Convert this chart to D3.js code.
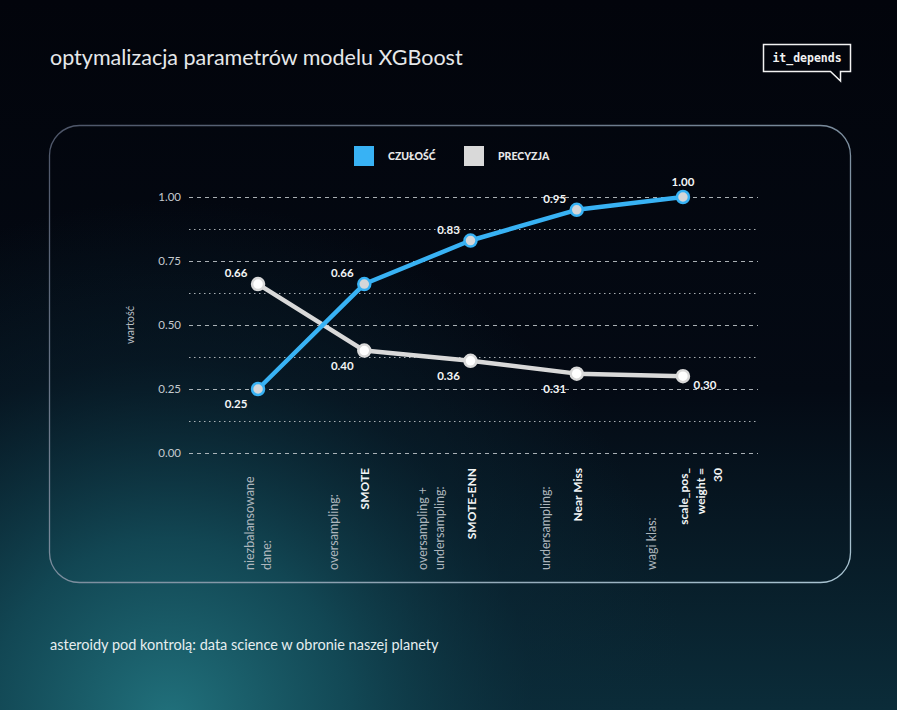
<!DOCTYPE html>
<html>
<head>
<meta charset="utf-8">
<script src="https://cdn.jsdelivr.net/npm/d3@7"></script>
<style>
  body { margin: 0; background: #03060e; }
  svg { display: block; }
</style>
</head>
<body>
<div id="chart"></div>
<script>
// chart data
var categories = ["niezbalansowane dane", "oversampling SMOTE", "SMOTE-ENN", "undersampling Near Miss", "wagi klas"];
var catSub = [["niezbalansowane", "dane:"], ["oversampling:"], ["oversampling +", "undersampling:"], ["undersampling:"], ["wagi klas:"]];
var catMain = [[], ["SMOTE"], ["SMOTE-ENN"], ["Near Miss"], ["scale_pos_", "weight =", "30"]];
var czulosc = [0.25, 0.66, 0.83, 0.95, 1.00];
var precyzja = [0.66, 0.40, 0.36, 0.31, 0.30];
var yTicks = [0, 0.25, 0.5, 0.75, 1];
var yMinor = [0.125, 0.375, 0.625, 0.875];
var seriesNames = ["CZUŁOŚĆ", "PRECYZJA"];

var W = 897, H = 710;
var margin = {top: 197, right: 139, bottom: 257, left: 189},
    width = W - margin.left - margin.right,
    height = H - margin.top - margin.bottom;

var blue = "#38b2f4", grey = "#d9d9d9";

var svg = d3.select("#chart").append("svg")
    .attr("width", W)
    .attr("height", H);

// background gradients
var defs = svg.append("defs");
var lin = defs.append("linearGradient").attr("id", "bgLin")
    .attr("x1", 0).attr("y1", 0).attr("x2", 0).attr("y2", 1);
lin.append("stop").attr("offset", "0%").attr("stop-color", "#02040b");
lin.append("stop").attr("offset", "55%").attr("stop-color", "#040a14");
lin.append("stop").attr("offset", "100%").attr("stop-color", "#0b2c39");

var rad = defs.append("radialGradient").attr("id", "bgGlow")
    .attr("gradientUnits", "userSpaceOnUse")
    .attr("cx", 170).attr("cy", 720).attr("r", 520);
rad.append("stop").attr("offset", "0%").attr("stop-color", "#21717c").attr("stop-opacity", 1);
rad.append("stop").attr("offset", "35%").attr("stop-color", "#134b58").attr("stop-opacity", 0.9);
rad.append("stop").attr("offset", "70%").attr("stop-color", "#0b2a38").attr("stop-opacity", 0.4);
rad.append("stop").attr("offset", "100%").attr("stop-color", "#0b2a38").attr("stop-opacity", 0);

var border = defs.append("linearGradient").attr("id", "panelStroke")
    .attr("x1", 0).attr("y1", 0).attr("x2", 1).attr("y2", 1);
border.append("stop").attr("offset", "0%").attr("stop-color", "#4d5568");
border.append("stop").attr("offset", "100%").attr("stop-color", "#a9c4d2");

svg.append("rect").attr("width", W).attr("height", H).attr("fill", "url(#bgLin)");
svg.append("rect").attr("width", W).attr("height", H).attr("fill", "url(#bgGlow)");

// panel
svg.append("rect")
    .attr("x", 49.5).attr("y", 125.5)
    .attr("width", 801).attr("height", 457)
    .attr("rx", 30).attr("ry", 30)
    .attr("fill", "none")
    .attr("stroke", "url(#panelStroke)")
    .attr("stroke-width", 1.3);

// title
svg.append("text")
    .attr("x", 50).attr("y", 65)
    .attr("fill", "#e6e8ea")
    .style("font-family", "Lato")
    .style("font-size", "21.5px")
    .text("optymalizacja parametrów modelu XGBoost");

// logo
svg.append("path")
    .attr("d", "M763.5,44.5 H850.5 V71.5 H840.5 V81 L830.5,71.5 H763.5 Z")
    .attr("fill", "none")
    .attr("stroke", "#f2f2f2")
    .attr("stroke-width", 1.5);
svg.append("text")
    .attr("x", 807).attr("y", 62)
    .attr("text-anchor", "middle")
    .attr("fill", "#f2f2f2")
    .style("font-family", "DejaVu Sans Mono")
    .style("font-weight", "bold")
    .style("font-size", "11.5px")
    .text("it_depends");

// footer
svg.append("text")
    .attr("x", 50).attr("y", 650)
    .attr("fill", "#e6eef0")
    .style("font-family", "Lato")
    .style("font-size", "14.5px")
    .text("asteroidy pod kontrolą: data science w obronie naszej planety");

// legend
var legend = svg.append("g");
var legX = [354, 464];
var legColors = [blue, grey];
seriesNames.forEach(function(name, i) {
  legend.append("rect")
      .attr("x", legX[i]).attr("y", 146)
      .attr("width", 20).attr("height", 20)
      .attr("fill", legColors[i]);
  legend.append("text")
      .attr("x", legX[i] + 34).attr("y", 160)
      .attr("fill", "#e8e8e8")
      .style("font-family", "Lato")
      .style("font-weight", "900")
      .style("font-size", "10.5px")
      .text(name);
});

var g = svg.append("g")
    .attr("transform", "translate(" + margin.left + "," + margin.top + ")");

// scales
var x = d3.scalePoint()
    .domain(categories)
    .range([0, width - 6])
    .padding(0.65);

var y = d3.scaleLinear()
    .domain([0, 1])
    .range([height, 0]);

// minor grid (dotted)
g.append("g")
    .call(d3.axisLeft(y).tickValues(yMinor).tickSize(-width).tickFormat(""))
    .call(function(s) { s.select(".domain").remove(); })
    .selectAll("line")
      .attr("stroke", "#c7ccd0")
      .attr("stroke-opacity", 0.85)
      .attr("stroke-dasharray", "1.5,3.5");

// major grid + labels (dashed)
var yAxis = g.append("g")
    .call(d3.axisLeft(y).tickValues(yTicks).tickSize(-width).tickFormat(d3.format(".2f")).tickPadding(8))
    .call(function(s) { s.select(".domain").remove(); });
yAxis.selectAll("line")
    .attr("stroke", "#c7ccd0")
    .attr("stroke-opacity", 0.85)
    .attr("stroke-dasharray", "4,4");
yAxis.selectAll("text")
    .attr("fill", "#c4c9ce")
    .style("font-family", "Lato")
    .style("font-size", "11.5px");

// y label
g.append("text")
    .attr("transform", "translate(" + (130 - margin.left) + "," + (height / 2) + ") rotate(-90)")
    .attr("text-anchor", "middle")
    .attr("dy", "0.35em")
    .attr("fill", "#b9bfc5")
    .style("font-family", "Lato")
    .style("font-size", "11px")
    .text("wartość");

// x labels (rotated, stacked columns)
var lineStep = 17;
categories.forEach(function(c, i) {
  var cx = x(c);
  var sub = catSub[i], main = catMain[i];
  sub.forEach(function(t, j) {
    var px = main.length
      ? cx - 31 - (sub.length - 1 - j) * lineStep
      : cx + (j - (sub.length - 1) / 2) * lineStep;
    g.append("text")
        .attr("transform", "translate(" + px + "," + (570 - margin.top) + ") rotate(-90)")
        .attr("text-anchor", "start")
        .attr("dy", "0.35em")
        .attr("fill", "#aeb6bd")
        .style("font-family", "Lato")
        .style("font-size", "12.5px")
        .text(t);
  });
  main.forEach(function(t, j) {
    var px = cx + 1 + j * lineStep;
    g.append("text")
        .attr("transform", "translate(" + px + "," + (468 - margin.top) + ") rotate(-90)")
        .attr("text-anchor", "end")
        .attr("dy", "0.35em")
        .attr("fill", "#f2f4f5")
        .style("font-family", "Lato")
        .style("font-weight", "bold")
        .style("font-size", "12px")
        .text(t);
  });
});

// lines
var line = d3.line()
    .x(function(d, i) { return x(categories[i]); })
    .y(function(d) { return y(d); });

var series = [
  {name: seriesNames[0], values: czulosc, other: precyzja, color: blue, dot: "#d4d6d8"},
  {name: seriesNames[1], values: precyzja, other: czulosc, color: grey, dot: "#ffffff"}
];

// draw precyzja first so czułość sits on top
series.slice().reverse().forEach(function(s) {
  g.append("path")
      .datum(s.values)
      .attr("d", line)
      .attr("fill", "none")
      .attr("stroke", s.color)
      .attr("stroke-width", 4.5)
      .attr("stroke-linejoin", "round");
});

series.forEach(function(s, si) {
  g.selectAll(".dot" + si)
    .data(s.values)
    .enter().append("circle")
      .attr("cx", function(d, i) { return x(categories[i]); })
      .attr("cy", function(d) { return y(d); })
      .attr("r", 6)
      .attr("fill", s.dot)
      .attr("stroke", s.color)
      .attr("stroke-width", 2.5);

  // value labels: above-left for the upper series, below-left for the lower one
  var last = s.values.length - 1;
  g.selectAll(".lab" + si)
    .data(s.values)
    .enter().append("text")
      .attr("x", function(d, i) {
        var px = x(categories[i]);
        if (i === last) return si === 0 ? px : px + 22;
        return px - 22;
      })
      .attr("y", function(d, i) {
        var py = y(d);
        if (i === last) return si === 0 ? py - 11 : py + 13;
        return d >= s.other[i] ? py - 7 : py + 19;
      })
      .attr("text-anchor", "middle")
      .attr("fill", "#f4f6f7")
      .style("font-family", "Lato")
      .style("font-weight", "bold")
      .style("font-size", "11.5px")
      .text(function(d) { return d3.format(".2f")(d); });
});
</script>
</body>
</html>
